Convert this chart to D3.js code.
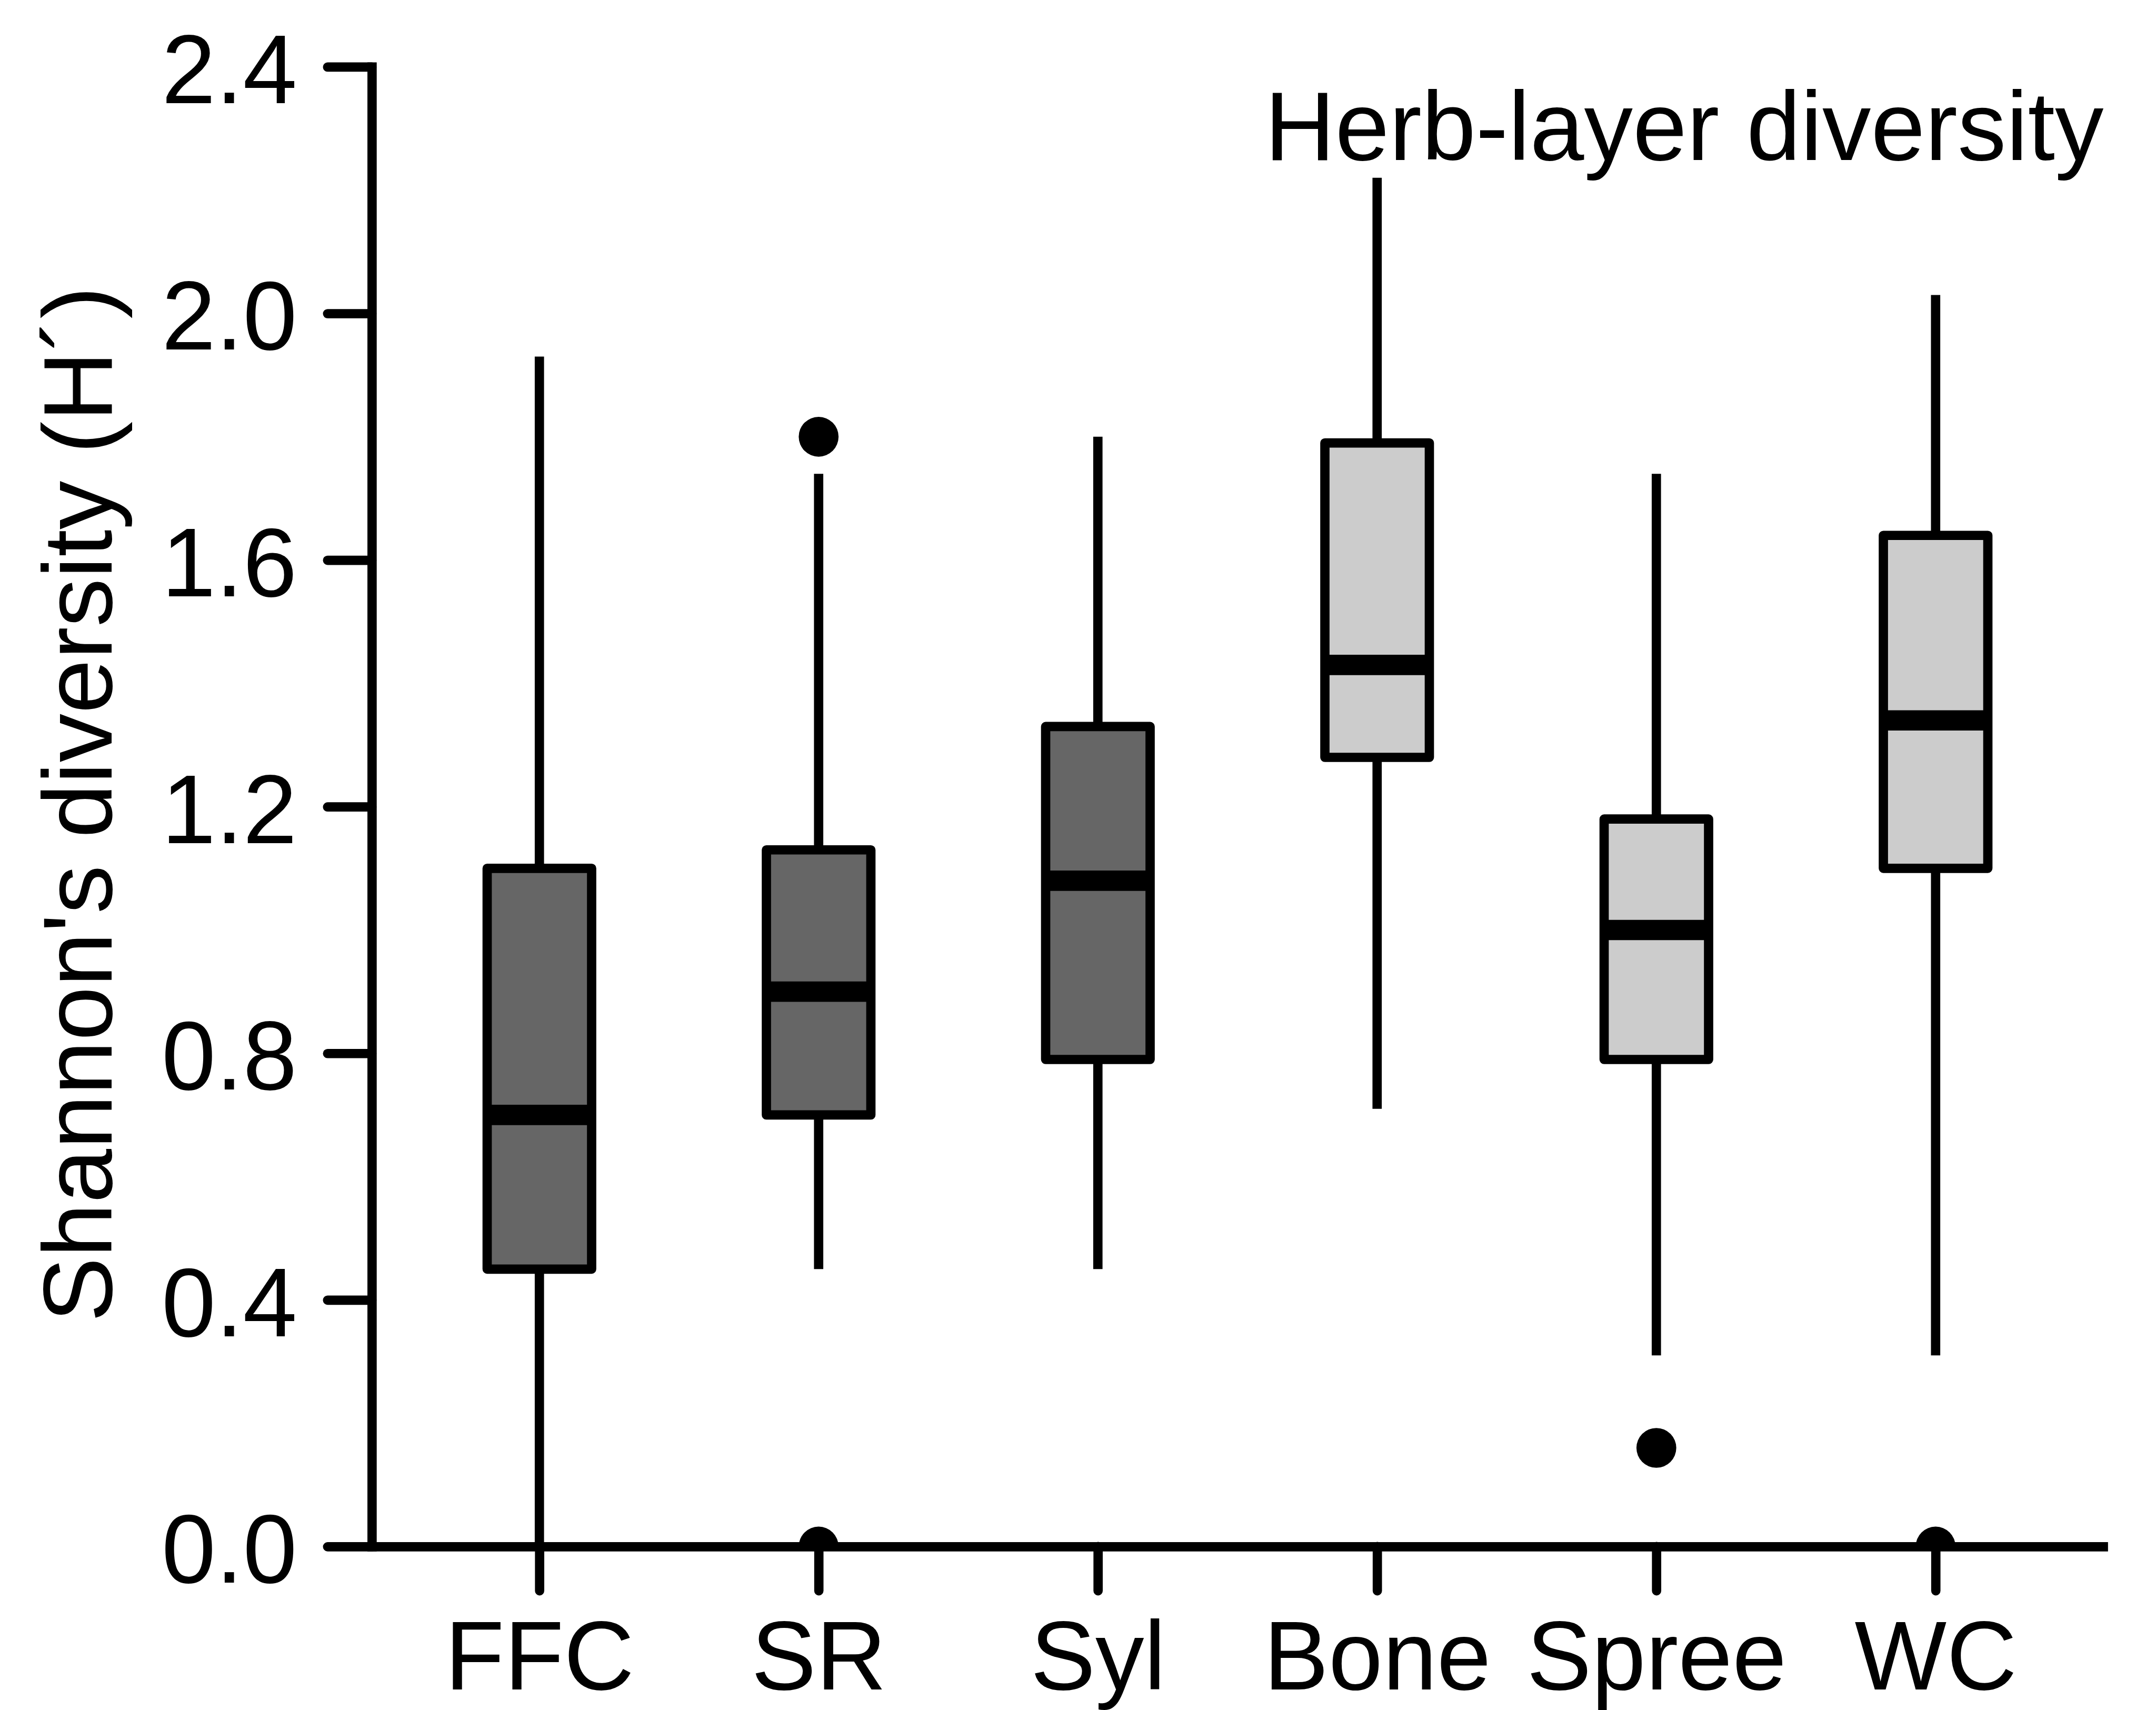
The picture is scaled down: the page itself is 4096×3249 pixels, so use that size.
<!DOCTYPE html>
<html>
<head>
<meta charset="utf-8">
<script src="https://cdn.jsdelivr.net/npm/d3@7"></script>
<style>
  html, body { margin: 0; padding: 0; background: #fff; }
  svg { display: block; }
  text { font-family: "Liberation Sans", Arial, sans-serif; fill: #000; }
</style>
</head>
<body>
<script>
// Herb-layer Shannon diversity per site: box-and-whisker summaries
const categories  = ["FFC", "SR", "Syl", "Bone", "Spree", "WC"];
const whiskerLow  = [0.00, 0.45, 0.45, 0.71, 0.31, 0.31];
const q1          = [0.45, 0.70, 0.79, 1.28, 0.79, 1.10];
const medians     = [0.70, 0.90, 1.08, 1.43, 1.00, 1.34];
const q3          = [1.10, 1.13, 1.33, 1.79, 1.18, 1.64];
const whiskerHigh = [1.93, 1.74, 1.80, 2.22, 1.74, 2.03];
const outliers    = [[], [1.80, 0.00], [], [], [0.16], [0.00]];
const boxFills    = ["#666666", "#666666", "#666666", "#cccccc", "#cccccc", "#cccccc"];
const yTicks      = [0.0, 0.4, 0.8, 1.2, 1.6, 2.0, 2.4];

const W = 4096, H = 3249, S = 0.841;   // drawing laid out on a 4870 x 3863 grid, scaled down

const svg = d3.select("body").append("svg")
  .attr("width", W).attr("height", H);

const g = svg.append("g").attr("transform", `scale(${S})`);

const x = d3.scaleLinear().domain([0.4, 6.6]).range([840, 4751]);
const y = d3.scaleLinear().domain([0, 2.4]).range([3494, 151]);

const LW = 21;        // line width for axes, whiskers and box outlines
const boxHalf = 118;  // half width of each box
const fontSize = 220;

const data = categories.map((c, i) => ({
  name: c, pos: i + 1,
  lo: whiskerLow[i], q1: q1[i], med: medians[i], q3: q3[i], hi: whiskerHigh[i],
  out: outliers[i], fill: boxFills[i]
}));

// plot area clip so points at zero are cut by the x axis
g.append("clipPath").attr("id", "plotclip")
  .append("rect")
  .attr("x", x.range()[0]).attr("y", 0)
  .attr("width", x.range()[1] - x.range()[0] + 50)
  .attr("height", y(0));

const plot = g.append("g").attr("clip-path", "url(#plotclip)");

const boxes = plot.selectAll("g.box").data(data).join("g").attr("class", "box");

// whiskers
boxes.append("line")
  .attr("x1", d => x(d.pos)).attr("x2", d => x(d.pos))
  .attr("y1", d => y(d.lo)).attr("y2", d => y(d.hi))
  .attr("stroke", "#000").attr("stroke-width", LW);

// boxes
boxes.append("rect")
  .attr("x", d => x(d.pos) - boxHalf)
  .attr("width", boxHalf * 2)
  .attr("y", d => y(d.q3))
  .attr("height", d => y(d.q1) - y(d.q3))
  .attr("fill", d => d.fill)
  .attr("stroke", "#000").attr("stroke-width", LW)
  .attr("stroke-linejoin", "round");

// medians
boxes.append("line")
  .attr("x1", d => x(d.pos) - boxHalf).attr("x2", d => x(d.pos) + boxHalf)
  .attr("y1", d => y(d.med)).attr("y2", d => y(d.med))
  .attr("stroke", "#000").attr("stroke-width", 46);

// outliers
boxes.selectAll("circle").data(d => d.out.map(v => ({ pos: d.pos, v })))
  .join("circle")
  .attr("cx", d => x(d.pos)).attr("cy", d => y(d.v))
  .attr("r", 45).attr("fill", "#000");

// y axis
const yAxis = g.append("g")
  .attr("transform", `translate(${x.range()[0]},0)`)
  .call(d3.axisLeft(y).tickValues(yTicks).tickFormat(d3.format(".1f"))
    .tickSize(100).tickSizeOuter(0).tickPadding(0));
yAxis.select(".domain").attr("stroke-width", LW).attr("stroke-linecap", "square");
yAxis.selectAll(".tick line").attr("stroke-width", LW).attr("stroke-linecap", "round");
yAxis.selectAll(".tick text")
  .attr("x", 671 - 840).attr("dy", "0.37em")
  .attr("font-size", fontSize).attr("font-family", null);

// x axis
const xAxis = g.append("g")
  .attr("transform", `translate(0,${y(0)})`)
  .call(d3.axisBottom(x).tickValues(d3.range(1, categories.length + 1))
    .tickFormat(d => categories[d - 1])
    .tickSize(100).tickSizeOuter(0));
xAxis.select(".domain").attr("stroke-width", LW).attr("stroke-linecap", "square");
xAxis.selectAll(".tick line").attr("stroke-width", LW).attr("stroke-linecap", "round");
xAxis.selectAll(".tick text")
  .attr("y", 3817 - 3494).attr("dy", null)
  .attr("font-size", fontSize).attr("font-family", null);

// y axis title
g.append("text")
  .attr("transform", "translate(252,1817) rotate(-90)")
  .attr("text-anchor", "middle")
  .attr("font-size", fontSize)
  .text("Shannon's diversity (H\u00B4)");

// panel title
g.append("text")
  .attr("x", 4752).attr("y", 361)
  .attr("text-anchor", "end")
  .attr("font-size", fontSize)
  .text("Herb-layer diversity");
</script>
</body>
</html>
